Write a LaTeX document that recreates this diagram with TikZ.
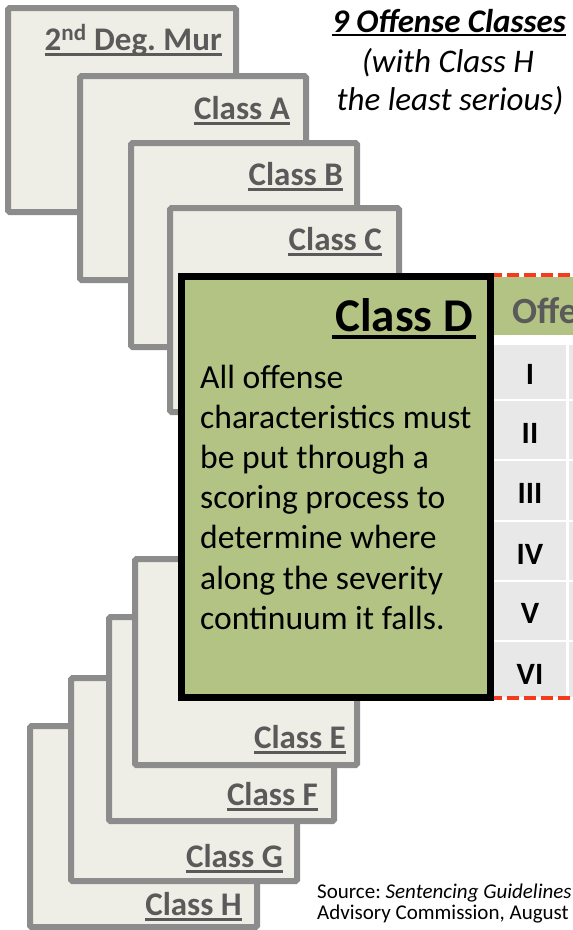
\documentclass[tikz,border=0pt]{standalone}
\usepackage{fontspec}
\setmainfont{Carlito}
\frenchspacing
\definecolor{boxgray}{HTML}{8C8C8C}
\definecolor{boxfill}{HTML}{EFEEE6}
\definecolor{labgray}{HTML}{5A5A5A}
\definecolor{dgreen}{HTML}{B2C384}
\definecolor{cellgray}{HTML}{E8E8E8}
\definecolor{dashred}{HTML}{F83A1C}
\tikzset{
  clsbox/.style={draw=boxgray, fill=boxfill, line width=6pt, rounded corners=1.5pt, anchor=north west, inner sep=0pt, outer sep=0pt},
  clslabel/.style={anchor=base east, inner sep=0pt, text=labgray, font=\fontsize{33}{40}\selectfont\bfseries},
  ul/.style={draw=labgray, line width=3pt},
  dbox/.style={draw=black, fill=dgreen, line width=7pt, anchor=north west, inner sep=0pt, outer sep=0pt},
  body/.style={anchor=base west, inner sep=0pt, font=\fontsize{33.6}{40}\selectfont},
  roman/.style={anchor=base, inner sep=0pt, font=\fontsize{31}{37}\selectfont\bfseries},
  cell/.style={fill=cellgray},
  reddash/.style={draw=dashred, line width=4pt, dash pattern=on 12pt off 5pt},
  title/.style={anchor=base, inner sep=0pt, font=\fontsize{33}{40}\selectfont\itshape},
  src/.style={anchor=base west, inner sep=0pt, font=\fontsize{21}{24}\selectfont}
}
\begin{document}
\begin{tikzpicture}[x=1pt,y=-1pt]
\useasboundingbox (0,0) rectangle (573,930);
\clip (0,0) rectangle (573,930);
\fill[white] (0,0) rectangle (573,930);

% top stack
\node[clsbox, minimum width=228, minimum height=204] (b0) at (8,8) {};
\node[clslabel] (l0) at (222,50) {2\textsuperscript{nd} Deg.\ Mur};
\draw[ul] ([yshift=-4pt]l0.base west) -- ([yshift=-4pt]l0.base east);

\node[clsbox, minimum width=226, minimum height=204] (bA) at (80,76) {};
\node[clslabel] (lA) at (290,119) {Class A};
\draw[ul] ([yshift=-4pt]lA.base west) -- ([yshift=-4pt]lA.base east);

\node[clsbox, minimum width=226, minimum height=204] (bB) at (131,143) {};
\node[clslabel] (lB) at (343,185) {Class B};
\draw[ul] ([yshift=-4pt]lB.base west) -- ([yshift=-4pt]lB.base east);

\node[clsbox, minimum width=229, minimum height=204] (bC) at (170,208) {};
\node[clslabel] (lC) at (382,250) {Class C};
\draw[ul] ([yshift=-4pt]lC.base west) -- ([yshift=-4pt]lC.base east);

% bottom stack
\node[clsbox, minimum width=227, minimum height=201] (bH) at (30,726) {};
\node[clslabel] (lH) at (242,915) {Class H};
\draw[ul] ([yshift=-4pt]lH.base west) -- ([yshift=-4pt]lH.base east);

\node[clsbox, minimum width=226, minimum height=203] (bG) at (71,678) {};
\node[clslabel] (lG) at (283,867) {Class G};
\draw[ul] ([yshift=-4pt]lG.base west) -- ([yshift=-4pt]lG.base east);

\node[clsbox, minimum width=225, minimum height=204] (bF) at (109,617) {};
\node[clslabel] (lF) at (318,805) {Class F};
\draw[ul] ([yshift=-4pt]lF.base west) -- ([yshift=-4pt]lF.base east);

\node[clsbox, minimum width=222, minimum height=206] (bE) at (135,559) {};
\node[clslabel] (lE) at (346,748) {Class E};
\draw[ul] ([yshift=-4pt]lE.base west) -- ([yshift=-4pt]lE.base east);

% table behind class D
\fill[dgreen] (493,277) rectangle (573,335);
\node[anchor=base west, inner sep=0pt, text=labgray, font=\fontsize{37}{44}\selectfont\bfseries] (hdr) at (512,323) {Offe};
\foreach \a/\b in {345/399, 401/459, 461/520, 522/580, 582/640, 642/697} {
  \fill[cell] (493,\a) rectangle (566,\b);
  \fill[cell] (569,\a) rectangle (573,\b);
}
\foreach \n/\y/\t in {r1/384/I, r2/443/II, r3/503/III, r4/564/IV, r5/623/V, r6/684/VI} {
  \node[roman] (\n) at (530,\y) {\t};
}
\coordinate (dtop) at (490,275);
\coordinate (dtopend) at (573,275);
\coordinate (dbot) at (490,698);
\coordinate (dbotend) at (573,698);
\draw[reddash] (dtop) -- (dtopend);
\draw[reddash] (dbot) -- (dbotend);

% Class D
\node[dbox, minimum width=309, minimum height=421] (bD) at (181.5,276.5) {};
\node[anchor=base east, inner sep=0pt, font=\fontsize{47}{56}\selectfont\bfseries] (lD) at (473,331) {Class D};
\draw[line width=3.5pt] ([yshift=-6pt,xshift=-3pt]lD.base west) -- ([yshift=-6pt,xshift=3pt]lD.base east);
\foreach \i/\t in {1/All offense, 2/characteristics must, 3/be put through a, 4/scoring process to, 5/determine where, 6/along the severity, 7/continuum it falls.} {
  \node[body] (t\i) at (200,{388+40.2*(\i-1)}) {\t};
}

% title
\node[title, font=\fontsize{33}{40}\selectfont\bfseries\itshape] (ti1) at (449,32) {9 Offense Classes};
\draw[line width=2pt] ([yshift=-3pt]ti1.base west) -- ([yshift=-3pt]ti1.base east);
\node[title] (ti2) at (448,72) {(with Class H};
\node[title] (ti3) at (450,110) {the least serious)};

% source
\node[src] (s1) at (317,898) {Source: \textit{Sentencing Guidelines}};
\node[src] (s2) at (317,919) {Advisory Commission, August};
\end{tikzpicture}
\end{document}
